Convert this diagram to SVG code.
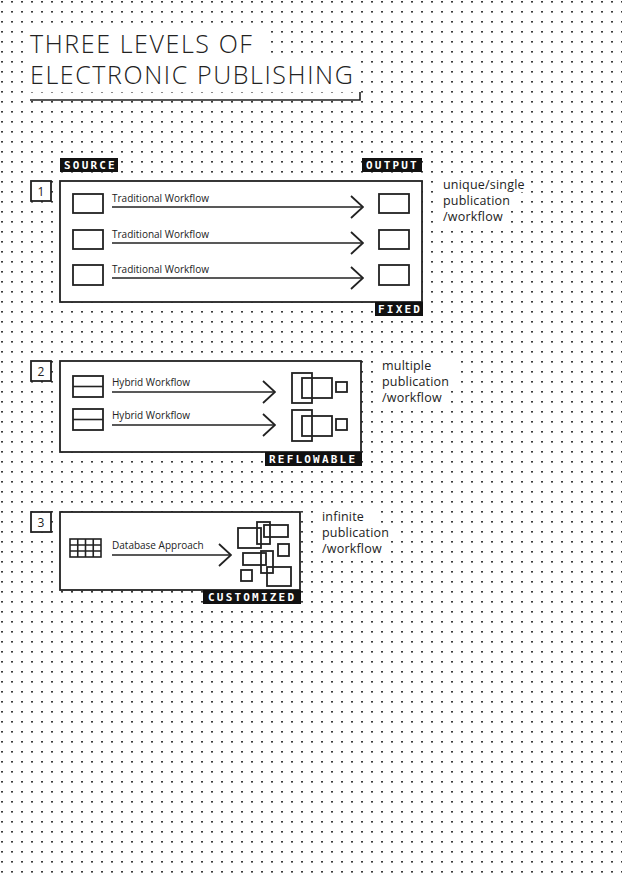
<svg xmlns="http://www.w3.org/2000/svg" width="622" height="873" viewBox="0 0 622 873">
<defs>
<pattern id="dots" x="0" y="0" width="10" height="10" patternUnits="userSpaceOnUse">
<rect x="1" y="1" width="2" height="1.6" fill="#3a3a3a"/>
</pattern>
<marker id="chev" viewBox="0 0 14 24" markerWidth="14" markerHeight="24" refX="13" refY="12" orient="auto" markerUnits="userSpaceOnUse">
<path d="M1,1 L13,12 L1,23" fill="none" stroke="#222" stroke-width="1.8"/>
</marker>
</defs>
<style>
.bg{fill:#fff}
.box{fill:#fff;stroke:#222;stroke-width:1.8}
.sq{fill:none;stroke:#222;stroke-width:1.8}
.ln{stroke:#222;stroke-width:1.6;fill:none}
.arr{stroke:#222;stroke-width:1.6;fill:none;marker-end:url(#chev)}
.tag{fill:#111}
.tagt{font-family:"DejaVu Sans Mono","Liberation Mono",monospace;font-weight:bold;font-size:11px;letter-spacing:2.2px;fill:#fff}
.lbl{font-family:"Open Sans","Noto Sans",sans-serif;font-size:10px;fill:#222}
.side{font-family:"Open Sans","Noto Sans",sans-serif;font-size:12.5px;letter-spacing:0.2px;fill:#222}
.num{font-family:"Open Sans","Noto Sans",sans-serif;font-size:12px;fill:#222;text-anchor:middle}
.title{font-family:"Open Sans","Lato",sans-serif;font-weight:300;font-size:25px;letter-spacing:1.6px;fill:#222}
</style>
<rect width="622" height="873" fill="#fff"/>
<rect width="622" height="873" fill="url(#dots)"/>

<g id="title">
<rect class="bg" x="27" y="29" width="241" height="31"/>
<rect class="bg" x="27" y="60" width="332" height="32"/>
<text class="title" x="30" y="53">THREE LEVELS OF</text>
<text class="title" x="30" y="84">ELECTRONIC PUBLISHING</text>
<path class="ln" d="M30,100 H360 V92"/>
</g>

<g id="source-tag"><rect class="tag" x="60" y="158" width="58" height="14"/><text class="tagt" x="64" y="169">SOURCE</text></g>
<g id="output-tag"><rect class="tag" x="362" y="158" width="60" height="14"/><text class="tagt" x="366" y="169">OUTPUT</text></g>

<g id="level1">
<rect class="box" x="31" y="181" width="20" height="20"/>
<text class="num" x="41" y="195.5">1</text>
<rect class="box" x="60" y="181" width="362" height="121"/>
<rect class="tag" x="375" y="302" width="48" height="14"/><text class="tagt" x="378" y="313">FIXED</text>
<rect class="sq" x="73" y="194" width="30" height="19"/>
<rect class="sq" x="73" y="230" width="30" height="19"/>
<rect class="sq" x="73" y="265" width="30" height="20"/>
<rect class="sq" x="379" y="194" width="30" height="19"/>
<rect class="sq" x="379" y="230" width="30" height="19"/>
<rect class="sq" x="379" y="265" width="30" height="20"/>
<text class="lbl" x="112" y="202">Traditional Workflow</text>
<text class="lbl" x="112" y="237.5">Traditional Workflow</text>
<text class="lbl" x="112" y="273">Traditional Workflow</text>
</g>
<g id="side1">
<rect class="bg" x="437" y="176" width="92" height="16"/>
<rect class="bg" x="437" y="192" width="80" height="16"/>
<rect class="bg" x="437" y="208" width="73" height="16"/>
<text class="side" x="443" y="189">unique/single</text>
<text class="side" x="443" y="205">publication</text>
<text class="side" x="443" y="221">/workflow</text>
</g>

<g id="level2">
<rect class="box" x="31" y="361" width="20" height="20"/>
<text class="num" x="41" y="375.5">2</text>
<rect class="box" x="60" y="361" width="301" height="91"/>
<rect class="tag" x="265" y="452" width="97" height="14"/><text class="tagt" x="269" y="463">REFLOWABLE</text>
<rect class="sq" x="73" y="376" width="30" height="21"/><path class="ln" d="M73,386.5 H103"/>
<rect class="sq" x="73" y="409" width="30" height="21"/><path class="ln" d="M73,419.5 H103"/>
<text class="lbl" x="112" y="386">Hybrid Workflow</text>
<text class="lbl" x="112" y="419">Hybrid Workflow</text>
<rect class="sq" x="292" y="373" width="20" height="30"/>
<rect class="sq" x="302" y="378" width="30" height="20"/>
<rect class="sq" x="336" y="382" width="11" height="10"/>
<rect class="sq" x="292" y="410" width="20" height="31"/>
<rect class="sq" x="302" y="416" width="30" height="20"/>
<rect class="sq" x="336" y="419" width="11" height="11"/>
</g>
<g id="side2">
<rect class="bg" x="377" y="357" width="78" height="16"/>
<rect class="bg" x="377" y="373" width="78" height="16"/>
<rect class="bg" x="377" y="389" width="70" height="16"/>
<text class="side" x="382" y="370">multiple</text>
<text class="side" x="382" y="386">publication</text>
<text class="side" x="382" y="402">/workflow</text>
</g>

<g id="level3">
<rect class="box" x="31" y="512" width="20" height="20"/>
<text class="num" x="41" y="526.5">3</text>
<rect class="box" x="60" y="512" width="240" height="78"/>
<rect class="tag" x="203" y="590" width="98" height="14"/><text class="tagt" x="208" y="601">CUSTOMIZED</text>
<g class="ln">
<rect x="70" y="539" width="31" height="18"/>
<path d="M77.75,539 V557 M85.5,539 V557 M93.25,539 V557 M70,545 H101 M70,551 H101"/>
</g>
<text class="lbl" x="112" y="549">Database Approach</text>
<rect class="sq" x="238" y="528" width="23" height="20"/>
<rect class="sq" x="257" y="522" width="13" height="22"/>
<rect class="sq" x="264" y="525" width="24" height="12"/>
<rect class="sq" x="278" y="544" width="11" height="12"/>
<rect class="sq" x="243" y="553" width="23" height="12"/>
<rect class="sq" x="261" y="551" width="12" height="22"/>
<rect class="sq" x="241" y="570" width="11" height="11"/>
<rect class="sq" x="267" y="567" width="24" height="19"/>
</g>
<g id="side3">
<rect class="bg" x="317" y="508" width="58" height="16"/>
<rect class="bg" x="317" y="524" width="78" height="16"/>
<rect class="bg" x="317" y="540" width="68" height="16"/>
<text class="side" x="322" y="521">infinite</text>
<text class="side" x="322" y="537">publication</text>
<text class="side" x="322" y="553">/workflow</text>
</g>

<g id="connectors">
<path class="arr" d="M112,207 H363"/>
<path class="arr" d="M112,243 H363"/>
<path class="arr" d="M112,278 H363"/>
<path class="arr" d="M112,392 H275"/>
<path class="arr" d="M112,425 H275"/>
<path class="arr" d="M112,555 H231"/>
</g>
</svg>
